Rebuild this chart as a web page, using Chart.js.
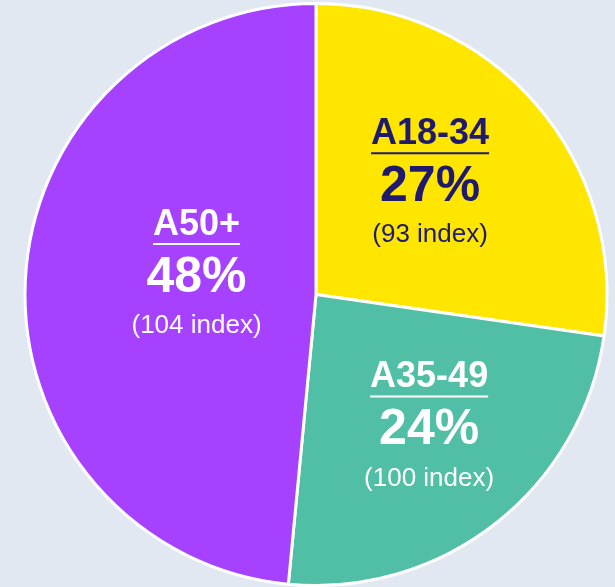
<!DOCTYPE html>
<html>
<head>
<meta charset="utf-8">
<script src="https://cdn.jsdelivr.net/npm/chart.js@4/dist/chart.umd.min.js"></script>
<style>
  html, body { margin: 0; padding: 0; background: #e2e8f1; }
  #wrap { width: 615px; height: 587px; position: relative; }
</style>
</head>
<body>
<div id="wrap"><canvas id="pieCanvas"></canvas></div>
<script>
const categories = ['A18-34', 'A35-49', 'A50+'];
const shares = [27, 24, 48];
const indexValues = [93, 100, 104];
const sliceColors = ['#ffe600', '#50bfa5', '#a541ff'];
const textColors = ['#1f1a6e', '#ffffff', '#ffffff'];

// where each label block sits inside its slice (fraction of radius, degrees off the mid-angle)
const labelPlacement = [
    { r: 0.545, da: -3.1 },
    { r: 0.60, da: -2.2 },
    { r: 0.416, da: 6.6 }
];

const sliceLabels = {
    id: 'sliceLabels',
    afterDatasetsDraw(chart) {
        const ctx = chart.ctx;
        const meta = chart.getDatasetMeta(0);
        meta.data.forEach(function (arc, i) {
            const p = arc.getProps(['x', 'y', 'startAngle', 'endAngle', 'outerRadius'], true);
            const mid = (p.startAngle + p.endAngle) / 2 + labelPlacement[i].da * Math.PI / 180;
            const d = p.outerRadius * labelPlacement[i].r;
            const cx = p.x + Math.cos(mid) * d;
            const cy = p.y + Math.sin(mid) * d;

            ctx.save();
            ctx.fillStyle = textColors[i];
            ctx.strokeStyle = textColors[i];
            ctx.textAlign = 'center';
            ctx.textBaseline = 'middle';

            ctx.font = 'bold 36px "Liberation Sans", Arial, sans-serif';
            ctx.fillText(categories[i], cx, cy - 50);
            const w = ctx.measureText(categories[i]).width;
            ctx.lineWidth = 2;
            ctx.beginPath();
            ctx.moveTo(cx - w / 2, cy - 31);
            ctx.lineTo(cx + w / 2, cy - 31);
            ctx.stroke();

            ctx.font = 'bold 50px "Liberation Sans", Arial, sans-serif';
            ctx.fillText(shares[i] + '%', cx, cy + 3);

            ctx.font = '26px "Liberation Sans", Arial, sans-serif';
            ctx.fillText('(' + indexValues[i] + ' index)', cx, cy + 51);
            ctx.restore();
        });
    }
};

new Chart(document.getElementById('pieCanvas'), {
    type: 'pie',
    data: {
        labels: categories,
        datasets: [{
            data: shares,
            backgroundColor: sliceColors,
            borderColor: '#ffffff',
            borderWidth: 3
        }]
    },
    options: {
        responsive: true,
        maintainAspectRatio: false,
        animation: false,
        layout: { padding: { top: 2, bottom: 0, left: 17, right: 0 } },
        plugins: {
            legend: { display: false },
            tooltip: { enabled: false }
        }
    },
    plugins: [sliceLabels]
});
</script>
</body>
</html>
